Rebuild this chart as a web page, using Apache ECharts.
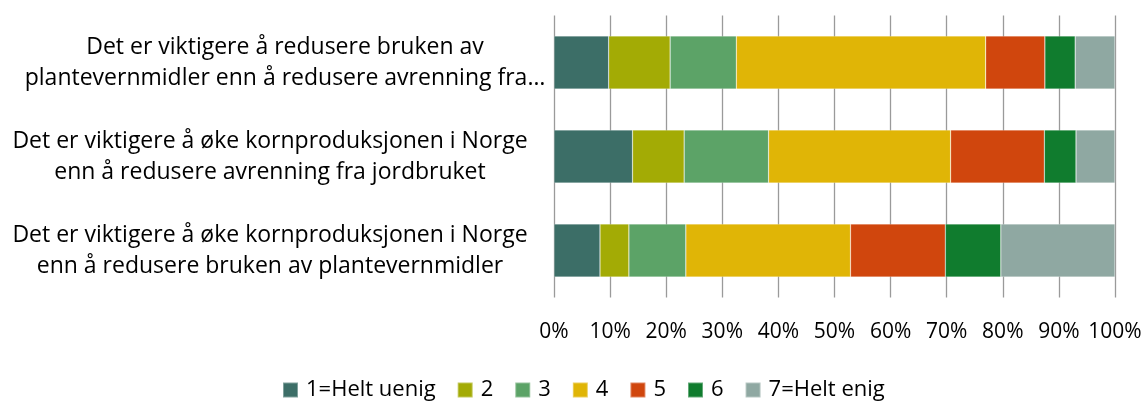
<!DOCTYPE html>
<html>
<head>
<meta charset="utf-8">
<script src="https://cdn.jsdelivr.net/npm/echarts@6/dist/echarts.min.js"></script>
<style>
html,body{margin:0;padding:0;background:#fff;}
#chart{width:1146px;height:401px;}
</style>
</head>
<body>
<div id="chart"></div>
<script>
const categories = [
  'Det er viktigere å redusere bruken av\nplantevernmidler enn å redusere avrenning fra…',
  'Det er viktigere å øke kornproduksjonen i Norge\nenn å redusere avrenning fra jordbruket',
  'Det er viktigere å øke kornproduksjonen i Norge\nenn å redusere bruken av plantevernmidler'
];
const seriesNames = ['1=Helt uenig', '2', '3', '4', '5', '6', '7=Helt enig'];
const s1 = [9.75, 14.0, 8.2];
const s2 = [10.95, 9.2, 5.15];
const s3 = [11.8, 15.05, 10.15];
const s4 = [44.45, 32.45, 29.35];
const s5 = [10.55, 16.7, 16.9];
const s6 = [5.4, 5.65, 9.9];
const s7 = [7.1, 6.95, 20.35];
const tickLabels = ['0%','10%','20%','30%','40%','50%','60%','70%','80%','90%','100%'];
const colors = ['#3C6E67', '#A3AB05', '#5CA367', '#E0B506', '#D0460D', '#107C2E', '#8FA8A2'];

const FONT = '"Open Sans"';
const allSeries = [s1, s2, s3, s4, s5, s6, s7];

const chart = echarts.init(document.getElementById('chart'));
chart.setOption({
  animation: false,
  color: colors,
  textStyle: { fontFamily: FONT },
  grid: { left: 554, right: 31, top: 15.5, bottom: 103.5, containLabel: false, outerBoundsMode: 'none' },
  legend: {
    data: seriesNames,
    top: 373,
    left: 277,
    icon: 'rect',
    itemWidth: 15,
    itemHeight: 15,
    itemGap: 21,
    textStyle: { fontFamily: FONT, fontSize: 22, color: '#000', lineHeight: 24, padding: [0, 0, 0, 3] }
  },
  xAxis: {
    type: 'value',
    min: 0, max: 100, interval: 10,
    axisLine: { show: false },
    axisTick: { show: false },
    splitLine: { show: true, lineStyle: { color: '#9a9a9a', width: 1.3 } },
    axisLabel: {
      margin: 23,
      fontFamily: FONT, fontSize: 21, color: '#000', lineHeight: 24,
      formatter: function (v) { return tickLabels[Math.round(v / 10)]; }
    }
  },
  yAxis: {
    type: 'category',
    inverse: true,
    data: categories,
    axisLine: { show: false },
    axisTick: { show: false },
    axisLabel: {
      align: 'center',
      margin: 284,
      fontFamily: FONT, fontSize: 23, color: '#000', lineHeight: 31,
      formatter: function (v, idx) {
        const key = idx === 0 ? 'a' : 'b';
        return v.split('\n').map(l => '{' + key + '|' + l + '}').join('\n');
      },
      rich: {
        a: { fontFamily: FONT, fontSize: 23, color: '#000', lineHeight: 31, padding: [0, 0, 0, 30] },
        b: { fontFamily: FONT, fontSize: 23, color: '#000', lineHeight: 31 }
      }
    }
  },
  series: allSeries.map((d, i) => ({
    name: seriesNames[i],
    type: 'bar',
    stack: 'total',
    barWidth: 53,
    data: d,
    itemStyle: { borderColor: 'rgba(255,255,255,0.35)', borderWidth: 0.6 }
  }))
});
</script>
</body>
</html>
